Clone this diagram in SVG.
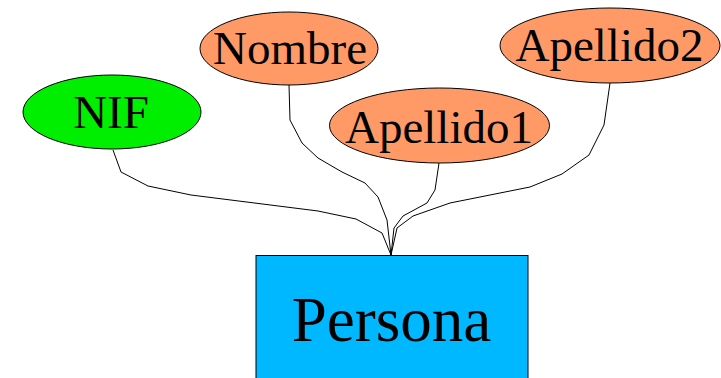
<svg xmlns="http://www.w3.org/2000/svg" width="721" height="378" viewBox="0 0 721 378">
<style>
.attr{fill:#ff9966;stroke:#000;stroke-width:1}
.key{fill:#00ee00;stroke:#000;stroke-width:1}
.ent{fill:#00b8ff;stroke:#000;stroke-width:1}
.lbl{font-family:"Liberation Serif","Times New Roman",serif;font-size:47px;fill:#000;text-anchor:middle}
.big{font-size:63px}
.edge{fill:none;stroke:#000;stroke-width:1}
</style>
<rect width="721" height="378" fill="#fff"/>
<g id="connectors">
<polyline class="edge" points="113,150 121,172 148,186 191,195 318,211 356,219 382,233 391,255"/>
<polyline class="edge" points="289,85 290,120 302,143 318,158 342,172 365,183 378,197 387,220 391,255"/>
<polyline class="edge" points="439,163 435,190 427,203 403,216 394,228 391,255"/>
<polyline class="edge" points="610,83 604,125 589,155 562,174 530,187 450,203 413,216 397,228 391,255"/>
</g>
<g id="NIF">
<ellipse class="key" cx="112" cy="112" rx="89" ry="37"/>
<text class="lbl" x="111" y="128">NIF</text>
</g>
<g id="Nombre">
<ellipse class="attr" cx="289" cy="48.5" rx="89" ry="36.5"/>
<text class="lbl" x="290" y="63.5">Nombre</text>
</g>
<g id="Apellido1">
<ellipse class="attr" cx="439.5" cy="125.5" rx="110" ry="37.5"/>
<text class="lbl" x="439" y="143">Apellido1</text>
</g>
<g id="Apellido2">
<ellipse class="attr" cx="610" cy="45.5" rx="110" ry="37.5"/>
<text class="lbl" x="609.5" y="61">Apellido2</text>
</g>
<g id="Persona">
<rect class="ent" x="256" y="255.5" width="272" height="130"/>
<text class="lbl big" x="391.5" y="341">Persona</text>
</g>
</svg>
